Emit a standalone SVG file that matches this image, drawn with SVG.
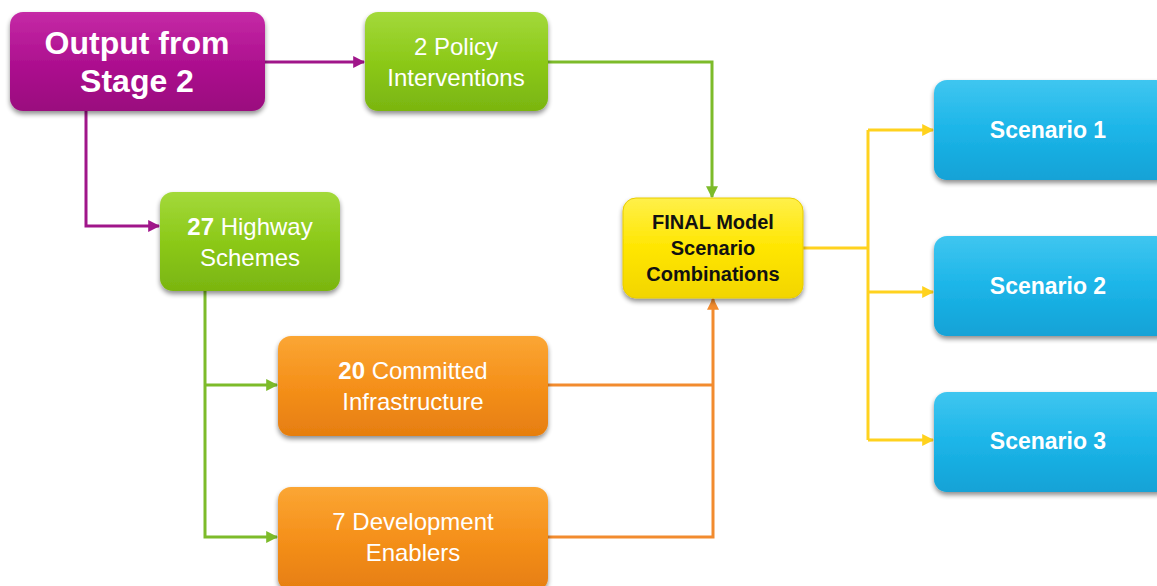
<svg xmlns="http://www.w3.org/2000/svg" width="1157" height="586" viewBox="0 0 1157 586">
  <defs>
    <linearGradient id="gPurple" x1="0" y1="0" x2="0" y2="1">
      <stop offset="0" stop-color="#C52AA6"/>
      <stop offset="0.5" stop-color="#AE1190"/>
      <stop offset="1" stop-color="#9A0A7E"/>
    </linearGradient>
    <linearGradient id="gGreen" x1="0" y1="0" x2="0" y2="1">
      <stop offset="0" stop-color="#A3D93A"/>
      <stop offset="0.5" stop-color="#8CC919"/>
      <stop offset="1" stop-color="#7AB510"/>
    </linearGradient>
    <linearGradient id="gOrange" x1="0" y1="0" x2="0" y2="1">
      <stop offset="0" stop-color="#FBA634"/>
      <stop offset="0.5" stop-color="#F5901A"/>
      <stop offset="1" stop-color="#E67E10"/>
    </linearGradient>
    <linearGradient id="gYellow" x1="0" y1="0" x2="0" y2="1">
      <stop offset="0" stop-color="#FFF04A"/>
      <stop offset="0.5" stop-color="#FFE600"/>
      <stop offset="1" stop-color="#F2D500"/>
    </linearGradient>
    <linearGradient id="gCyan" x1="0" y1="0" x2="0" y2="1">
      <stop offset="0" stop-color="#3FC6F0"/>
      <stop offset="0.5" stop-color="#1CB5E8"/>
      <stop offset="1" stop-color="#12A2D6"/>
    </linearGradient>
    <filter id="shadow" x="-10%" y="-10%" width="120%" height="130%">
      <feGaussianBlur in="SourceAlpha" stdDeviation="2.5"/>
      <feOffset dx="0" dy="3" result="b"/>
      <feComponentTransfer><feFuncA type="linear" slope="0.45"/></feComponentTransfer>
      <feMerge><feMergeNode/><feMergeNode in="SourceGraphic"/></feMerge>
    </filter>
    <marker id="aPurple" viewBox="0 0 10 10" refX="9" refY="5" markerWidth="4" markerHeight="4" orient="auto" markerUnits="strokeWidth">
      <path d="M0,0 L10,5 L0,10 z" fill="#A0168A"/>
    </marker>
    <marker id="aGreen" viewBox="0 0 10 10" refX="9" refY="5" markerWidth="4" markerHeight="4" orient="auto" markerUnits="strokeWidth">
      <path d="M0,0 L10,5 L0,10 z" fill="#7DBB2A"/>
    </marker>
    <marker id="aOrange" viewBox="0 0 10 10" refX="9" refY="5" markerWidth="4" markerHeight="4" orient="auto" markerUnits="strokeWidth">
      <path d="M0,0 L10,5 L0,10 z" fill="#F28B2E"/>
    </marker>
    <marker id="aYellow" viewBox="0 0 10 10" refX="9" refY="5" markerWidth="4" markerHeight="4" orient="auto" markerUnits="strokeWidth">
      <path d="M0,0 L10,5 L0,10 z" fill="#FFD21E"/>
    </marker>
  </defs>
  <style>
    .box { filter: url(#shadow); }
    .t { font-family: "Liberation Sans", Arial, sans-serif; fill: #FFFFFF; text-anchor: middle; }
    .big { font-size: 32px; font-weight: bold; }
    .mid { font-size: 24px; }
    .scn { font-size: 23px; font-weight: bold; }
    .fin { font-family: "Liberation Sans", Arial, sans-serif; fill: #111111; text-anchor: middle; font-size: 20px; font-weight: bold; }
    .b { font-weight: bold; }
    .c { fill: none; stroke-width: 3; }
    .cp { stroke: #A0168A; }
    .cg { stroke: #7DBB2A; }
    .co { stroke: #F28B2E; }
    .cy { stroke: #FFD21E; }
  </style>
  <rect width="1157" height="586" fill="#FFFFFF"/>

  <!-- connectors -->
  <g id="connectors">
    <path class="c cp" d="M265,62 H364" marker-end="url(#aPurple)"/>
    <path class="c cp" d="M86,111 V226 H159" marker-end="url(#aPurple)"/>
    <path class="c cg" d="M548,62 H712 V197" marker-end="url(#aGreen)"/>
    <path class="c cg" d="M205,291 V537 H277" marker-end="url(#aGreen)"/>
    <path class="c cg" d="M205,385 H277" marker-end="url(#aGreen)"/>
    <path class="c co" d="M548,385 H713"/>
    <path class="c co" d="M548,537 H713 V299" marker-end="url(#aOrange)"/>
    <path class="c cy" d="M803,248 H868"/>
    <path class="c cy" d="M868,130 V440"/>
    <path class="c cy" d="M868,130 H933" marker-end="url(#aYellow)"/>
    <path class="c cy" d="M868,292 H933" marker-end="url(#aYellow)"/>
    <path class="c cy" d="M868,440 H933" marker-end="url(#aYellow)"/>
  </g>

  <!-- nodes -->
  <g id="output-stage2">
    <rect class="box" x="10" y="12" width="255" height="99" rx="13" fill="url(#gPurple)"/>
    <text class="t big" x="137" y="54">Output from</text>
    <text class="t big" x="137" y="92">Stage 2</text>
  </g>
  <g id="policy-interventions">
    <rect class="box" x="365" y="12" width="183" height="99" rx="13" fill="url(#gGreen)"/>
    <text class="t mid" x="456" y="55">2 Policy</text>
    <text class="t mid" x="456" y="86">Interventions</text>
  </g>
  <g id="highway-schemes">
    <rect class="box" x="160" y="192" width="180" height="99" rx="13" fill="url(#gGreen)"/>
    <text class="t mid" x="250" y="235"><tspan class="b">27</tspan> Highway</text>
    <text class="t mid" x="250" y="266">Schemes</text>
  </g>
  <g id="final-model">
    <rect class="box" x="623" y="198" width="180" height="100" rx="13" fill="url(#gYellow)" stroke="#E8CC00" stroke-width="1"/>
    <text class="fin" x="713" y="229">FINAL Model</text>
    <text class="fin" x="713" y="255">Scenario</text>
    <text class="fin" x="713" y="281">Combinations</text>
  </g>
  <g id="committed-infrastructure">
    <rect class="box" x="278" y="336" width="270" height="100" rx="13" fill="url(#gOrange)"/>
    <text class="t mid" x="413" y="379"><tspan class="b">20</tspan> Committed</text>
    <text class="t mid" x="413" y="410">Infrastructure</text>
  </g>
  <g id="development-enablers">
    <rect class="box" x="278" y="487" width="270" height="104" rx="13" fill="url(#gOrange)"/>
    <text class="t mid" x="413" y="530">7 Development</text>
    <text class="t mid" x="413" y="561">Enablers</text>
  </g>
  <g id="scenario-1">
    <rect class="box" x="934" y="80" width="235" height="100" rx="13" fill="url(#gCyan)"/>
    <text class="t scn" x="1048" y="138">Scenario 1</text>
  </g>
  <g id="scenario-2">
    <rect class="box" x="934" y="236" width="235" height="100" rx="13" fill="url(#gCyan)"/>
    <text class="t scn" x="1048" y="294">Scenario 2</text>
  </g>
  <g id="scenario-3">
    <rect class="box" x="934" y="392" width="235" height="100" rx="13" fill="url(#gCyan)"/>
    <text class="t scn" x="1048" y="449">Scenario 3</text>
  </g>
</svg>
